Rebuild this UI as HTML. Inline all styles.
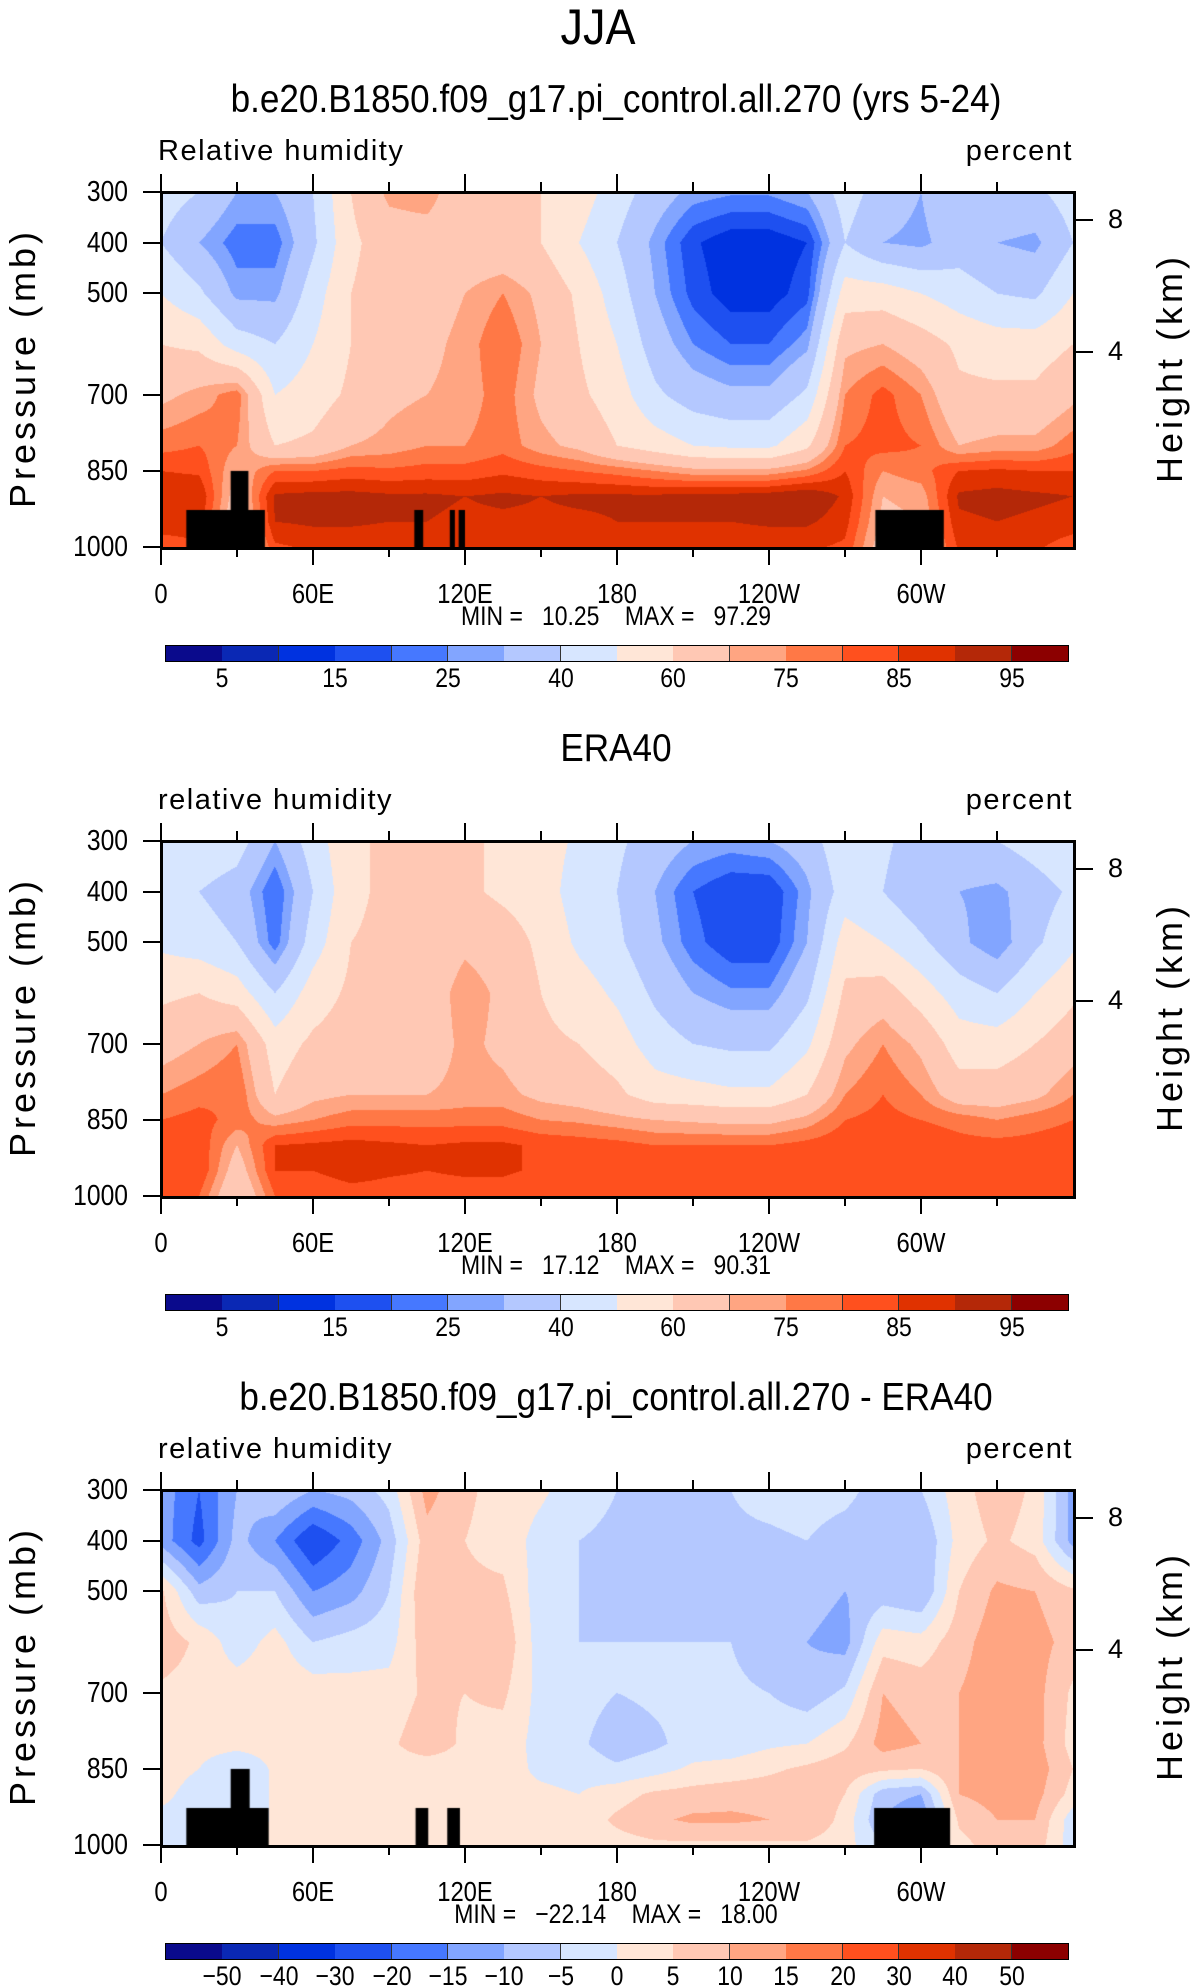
<!DOCTYPE html>
<html><head><meta charset="utf-8"><style>
html,body{margin:0;padding:0;background:#fff;}
#root{position:relative;width:1196px;height:1987px;overflow:hidden;font-family:"Liberation Sans",sans-serif;color:#000;}
.t{position:absolute;white-space:nowrap;line-height:1;}
canvas{position:absolute;}
</style></head><body>
<div id="root">
<div class="t" style="left:0;width:1196px;text-align:center;top:2px;font-size:50px;font-weight:300;transform:scaleX(0.9);">JJA</div>
</div>
<script>
// ---- data ----
const levels = [300,400,500,600,700,800,850,900,950,1000];
const lons = [0,15,30,45,60,75,90,105,120,135,150,165,180,195,210,225,240,255,270,285,300,315,330,345,360];
const rhModel = [
[45,40,50,60,68,78,85,90,88,82],
[40,30,42,58,72,80,84,90,88,84],
[30,22,28,45,78,75,70,65,62,60],
[30,22,28,40,50,60,80,91,90,84],
[40,38,45,50,55,62,80,92,91,86],
[60,58,60,60,62,70,82,92,91,86],
[72,65,65,65,68,72,81,91,90,86],
[74,65,66,68,70,75,82,91,90,86],
[62,63,70,72,72,75,82,90,89,86],
[60,62,75,80,78,78,84,91,89,86],
[60,60,68,70,68,72,82,90,89,86],
[55,50,58,60,62,68,80,91,89,86],
[45,40,45,50,55,60,78,91,90,86],
[35,28,30,35,42,55,75,91,90,86],
[28,16,18,25,35,50,72,92,90,86],
[26,11,12,20,32,48,72,92,90,86],
[26,11,12,20,32,48,72,93,91,86],
[30,15,18,28,42,58,76,95,91,86],
[45,40,55,68,75,80,85,89,87,84],
[35,30,55,70,82,82,75,70,68,65],
[30,28,50,65,75,80,78,72,70,68],
[40,35,45,58,62,70,85,91,89,86],
[40,30,40,55,62,72,86,92,90,86],
[38,28,38,55,62,72,85,91,89,86],
[45,40,50,60,68,78,85,90,88,82]];
const rhEra = [
[50,42,48,58,66,75,80,83,85,80],
[48,40,45,60,70,78,82,84,85,80],
[45,35,40,55,75,80,78,70,65,60],
[30,20,22,40,55,60,72,85,85,80],
[45,40,45,55,62,68,75,86,85,80],
[58,58,60,62,65,70,78,87,88,82],
[62,62,62,62,64,70,78,86,86,82],
[62,62,62,64,65,70,78,85,85,82],
[62,62,68,74,72,72,78,86,86,82],
[58,58,65,68,68,72,78,86,86,82],
[55,55,58,60,62,68,75,84,84,80],
[48,45,48,55,60,66,74,83,84,80],
[42,40,42,48,55,62,72,82,83,80],
[35,30,32,38,45,55,70,80,82,80],
[30,20,22,30,40,54,69,80,82,80],
[28,15,16,26,38,52,68,80,82,80],
[30,15,16,26,38,52,68,80,82,80],
[35,28,30,38,48,60,72,82,82,80],
[48,45,55,62,68,75,80,84,83,80],
[42,40,50,65,75,80,82,84,84,82],
[35,32,42,55,68,75,80,84,84,82],
[38,30,32,45,55,65,78,82,82,80],
[40,28,25,40,55,65,75,82,82,80],
[45,35,38,50,60,68,78,82,84,80],
[50,42,48,58,66,75,80,83,85,80]];
const rhDiff = [
[-12,-12,6,8,4,3,5,3,-3,-3],
[-20,-22,-8,4,3,2,0,-5,-5,-3],
[-10,-8,-5,-3,3,2,-5,-5,-5,-3],
[-5,-15,-5,2,4,2,1,1,1,1],
[-10,-25,-15,-5,3,3,2,2,2,2],
[-8,-18,-12,-3,2,2,2,2,2,2],
[-3,-8,-5,-2,2,4,3,2,2,2],
[12,8,10,8,6,8,2,2,2,2],
[6,5,6,8,5,4,3,2,2,2],
[3,3,6,9,6,3,2,1,1,1],
[1,-2,-3,-3,-2,-2,-1,1,2,2],
[-3,-5,-5,-5,-3,-4,-2,0,2,2],
[-5,-6,-6,-5,-5,-8,-4,3,6,3],
[-6,-10,-8,-5,-4,-6,-2,6,9,4],
[-6,-8,-8,-5,-4,-3,1,7,11,4],
[-5,-6,-6,-5,-4,-3,2,8,11,4],
[-3,-6,-8,-8,-5,-1,4,8,10,4],
[-2,-5,-8,-10,-8,0,6,9,10,4],
[-3,-8,-10,-12,-4,4,8,5,3,2],
[-8,-10,-8,3,10,12,6,-8,-10,-5],
[-5,-10,-10,2,8,10,5,-10,-15,-5],
[3,2,5,8,10,10,10,10,6,3],
[8,6,11,13,13,13,13,12,10,8],
[4,3,10,12,12,12,13,12,10,8],
[-12,-12,6,8,4,3,5,3,-3,-3]];
const rhLevels = [5,10,15,20,25,30,40,50,60,70,75,80,85,90,95];
const rhLabels = ["5","","15","","25","","40","","60","","75","","85","","95"];
const diffLevels = [-50,-40,-30,-20,-15,-10,-5,0,5,10,15,20,30,40,50];
const diffLabels = ["\u221250","\u221240","\u221230","\u221220","\u221215","\u221210","\u22125","0","5","10","15","20","30","40","50"];
const colors = ["#0a0a8c","#0a28b4","#0032e0","#1e50f0","#4678ff","#82a5ff","#b4c8ff","#d7e6ff","#ffe6d7","#ffc8b4","#ffa582","#ff7846","#ff501e","#e03200","#b42808","#8c0000"];
const lonTicks = [0,60,120,180,240,300];
const lonTickLabels = ["0","60E","120E","180","120W","60W"];
const presTicks = [300,400,500,700,850,1000];
const heightTicks = [8,4];
const heightPres = [356,616];
// topography masks: [lonStart, lonEnd, pressureTop]
const masksA = [[10,41,927],[27.5,34.5,850],[100,103.5,927],[114,116,927],[117.5,120,927],[282,309,927]];
const masksC = [[10,42.5,927],[27.5,35,850],[100.5,105.5,927],[113,118,927],[281.5,311.5,927]];
const panels = [
 {off:0, title:"b.e20.B1850.f09_g17.pi_control.all.270 (yrs 5-24)", left:"Relative humidity", data:rhModel, lev:rhLevels, labs:rhLabels, masks:masksA, min:"10.25", max:"97.29"},
 {off:649, title:"ERA40", left:"relative humidity", data:rhEra, lev:rhLevels, labs:rhLabels, masks:[], min:"17.12", max:"90.31"},
 {off:1298, title:"b.e20.B1850.f09_g17.pi_control.all.270 - ERA40", left:"relative humidity", data:rhDiff, lev:diffLevels, labs:diffLabels, masks:masksC, min:"\u221222.14", max:"18.00"}
];
// ---- layout ----
const root = document.getElementById('root');
const X0=161, X1=1073, PW=X1-X0, PH=355;
function xScale(lon){return X0+lon*PW/360;}
function yScale(p,off){return 192+off+(p-300)*PH/700;}
function txt(s,css,name){
  const d=document.createElement('div');
  d.className='t';
  d.textContent=s;
  d.style.cssText=css;
  
  
  root.appendChild(d);
  return d;
}
function box(css,name){
  const d=document.createElement('div');
  d.style.cssText='position:absolute;'+css;
  
  
  root.appendChild(d);
  return d;
}
function interp(data,lon,p){
  let i=Math.min(Math.floor(lon/15),23); let fx=(lon-lons[i])/15;
  let j=0; while(j<levels.length-2 && p>levels[j+1]) j++;
  let fy=(p-levels[j])/(levels[j+1]-levels[j]);
  const a=data[i][j],b=data[i+1][j],c=data[i][j+1],d=data[i+1][j+1];
  return (a*(1-fx)+b*fx)*(1-fy)+(c*(1-fx)+d*fx)*fy;
}
function hex(c){return [parseInt(c.substr(1,2),16),parseInt(c.substr(3,2),16),parseInt(c.substr(5,2),16)];}
const rgb=colors.map(hex);
panels.forEach((P,k)=>{
  const off=P.off;
  txt(P.title,`left:0;width:1232px;text-align:center;top:${80+off}px;font-size:39px;transform:scaleX(0.9);transform-origin:616px 0;`,'panel-title');
  txt(P.left,`left:158px;top:${137+off}px;font-size:29px;letter-spacing:1.5px;`,'variable-label');
  txt('percent',`left:943px;width:130px;text-align:right;top:${137+off}px;font-size:29px;letter-spacing:1.5px;`,'units-label');
  const cv=document.createElement('canvas');
  cv.width=PW; cv.height=PH;
  cv.style.left=X0+'px'; cv.style.top=(192+off)+'px';
  
  
  root.appendChild(cv);
  const ctx=cv.getContext('2d');
  const img=ctx.createImageData(PW,PH);
  for(let y=0;y<PH;y++){
    const p=300+(y+0.5)*700/PH;
    for(let x=0;x<PW;x++){
      const lon=(x+0.5)*360/PW;
      const v=interp(P.data,lon,p);
      let b=0; while(b<P.lev.length && v>=P.lev[b]) b++;
      const c=rgb[b]; const o=(y*PW+x)*4;
      img.data[o]=c[0];img.data[o+1]=c[1];img.data[o+2]=c[2];img.data[o+3]=255;
    }
  }
  ctx.putImageData(img,0,0);
  ctx.fillStyle='#000';
  P.masks.forEach(m=>{
    const mx=xScale(m[0])-X0, mw=xScale(m[1])-xScale(m[0]), my=yScale(m[2],0)-192;
    ctx.fillRect(mx,my,mw,PH-my);
  });
  box(`left:${X0-1}px;top:${191+off}px;width:${PW-2}px;height:${PH-2}px;border:3px solid #000;`,'plot-frame');
  for(let lon=0;lon<=330;lon+=30){
    const major=lon%60===0, x=xScale(lon), L=major?18:10;
    box(`left:${x-1}px;top:${192+off-L}px;width:2px;height:${L}px;background:#000;`,'x-tick-top');
    box(`left:${x-1}px;top:${547+off}px;width:2px;height:${L}px;background:#000;`,'x-tick-bottom');
  }
  lonTicks.forEach((lon,i)=>{
    txt(lonTickLabels[i],`left:${xScale(lon)-60}px;width:120px;text-align:center;top:${580+off}px;font-size:28px;transform:scaleX(0.85);`,'x-tick-label');
  });
  presTicks.forEach(p=>{
    const y=yScale(p,off);
    box(`left:${X0-18}px;top:${y-1}px;width:18px;height:2px;background:#000;`,'y-tick');
    txt(String(p),`left:30px;width:98px;text-align:right;top:${y-14}px;font-size:29px;transform:scaleX(0.85);transform-origin:100% 50%;`,'y-tick-label');
  });
  heightTicks.forEach((h,i)=>{
    const y=yScale(heightPres[i],off);
    box(`left:${X1}px;top:${y-1}px;width:20px;height:2px;background:#000;`,'height-tick');
    txt(String(h),`left:1108px;top:${y-14}px;font-size:27px;`,'height-tick-label');
  });
  txt('Pressure  (mb)',`left:-122px;width:290px;text-align:center;top:${350+off}px;font-size:36px;transform:rotate(-90deg);letter-spacing:4px;`,'y-axis-title');
  txt('Height  (km)',`left:1030px;width:280px;text-align:center;top:${350+off}px;font-size:36px;transform:rotate(-90deg);letter-spacing:4px;`,'right-axis-title');
  txt(`MIN =   ${P.min}    MAX =   ${P.max}`,`left:316px;width:600px;text-align:center;top:${603+off}px;font-size:27px;transform:scaleX(0.85);white-space:pre;`,'min-max-label');
  const cbx=166, cbw=902, cby=646+off, n=colors.length;
  colors.forEach((c,i)=>{
    box(`left:${cbx+i*cbw/n}px;top:${cby}px;width:${cbw/n+0.5}px;height:15px;background:${c};box-sizing:border-box;border-right:1px solid #333;`,'colorbar-box');
  });
  box(`left:${cbx-1}px;top:${cby-1}px;width:${cbw}px;height:15px;border:1px solid #000;`,'colorbar-frame');
  P.labs.forEach((s,i)=>{
    if(!s) return;
    txt(s,`left:${cbx+(i+1)*cbw/n-40}px;width:80px;text-align:center;top:${cby+19}px;font-size:27px;transform:scaleX(0.85);`,'colorbar-label');
  });
});
</script>
</body></html>
